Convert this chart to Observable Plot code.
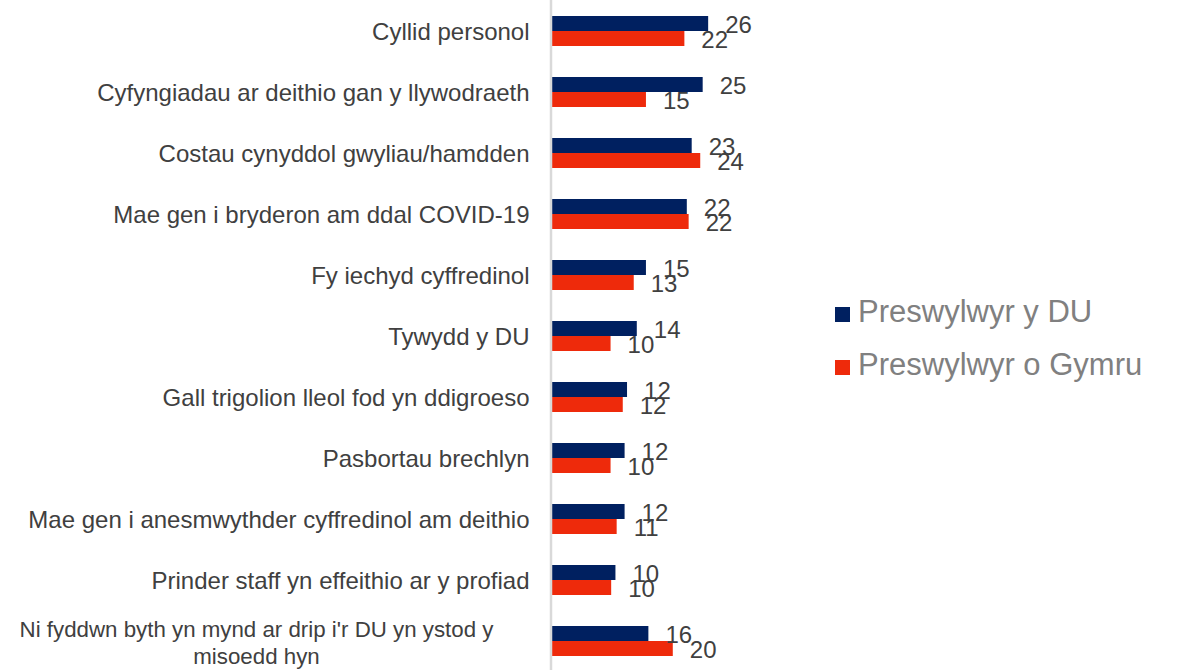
<!DOCTYPE html>
<html>
<head>
<meta charset="utf-8">
<script src="https://cdn.jsdelivr.net/npm/d3@7"></script>
<script src="https://cdn.jsdelivr.net/npm/@observablehq/plot@0.6"></script>
<style>
  html, body { margin: 0; padding: 0; background: #fff; overflow: hidden; }
  body { font-family: "Liberation Sans", Arial, sans-serif; }
  #wrap { position: relative; width: 1178px; height: 670px; overflow: hidden; }
  #chart svg { display: block; }
  .leg { position: absolute; left: 835px; font-size: 31px; line-height: 31px; height: 31px; color: #808080; white-space: nowrap; }
  .leg .sw { display: inline-block; width: 15px; height: 15px; margin-right: 8px; vertical-align: baseline; }
</style>
</head>
<body>
<div id="wrap">
  <div id="chart"></div>
</div>
<script>
// ---- data ----
const categories = [
  "Cyllid personol",
  "Cyfyngiadau ar deithio gan y llywodraeth",
  "Costau cynyddol gwyliau/hamdden",
  "Mae gen i bryderon am ddal COVID-19",
  "Fy iechyd cyffredinol",
  "Tywydd y DU",
  "Gall trigolion lleol fod yn ddigroeso",
  "Pasbortau brechlyn",
  "Mae gen i anesmwythder cyffredinol am deithio",
  "Prinder staff yn effeithio ar y profiad",
  "Ni fyddwn byth yn mynd ar drip i'r DU yn ystod y misoedd hyn"
];
const tickLabels = [
  "Cyllid personol",
  "Cyfyngiadau ar deithio gan y llywodraeth",
  "Costau cynyddol gwyliau/hamdden",
  "Mae gen i bryderon am ddal COVID-19",
  "Fy iechyd cyffredinol",
  "Tywydd y DU",
  "Gall trigolion lleol fod yn ddigroeso",
  "Pasbortau brechlyn",
  "Mae gen i anesmwythder cyffredinol am deithio",
  "Prinder staff yn effeithio ar y profiad",
  "Ni fyddwn byth yn mynd ar drip i'r DU yn ystod y\nmisoedd hyn"
];
const seriesNames = ["Preswylwyr y DU", "Preswylwyr o Gymru"];
const ukValues    = [25.6, 24.7, 22.9, 22.1, 15.4, 13.9, 12.3, 11.9, 11.9, 10.4, 15.8];
const walesValues = [21.7, 15.4, 24.3, 22.4, 13.4, 9.6, 11.6, 9.6, 10.6, 9.7, 19.8];
const colors = ["#002060", "#EE2A0B"];

// ---- build table ----
const rows = categories.map((c, i) => ({
  category: c,
  label: tickLabels[i],
  uk: ukValues[i],
  wales: walesValues[i],
  multi: tickLabels[i].includes("\n")
}));
const fmt = d3.format(".0f");
const labelColor = "#404040";

const chart = Plot.plot({
  width: 1178,
  height: 672,
  marginLeft: 552,
  marginRight: 16,
  marginTop: 0,
  marginBottom: 0,
  style: { fontFamily: "'Liberation Sans', Arial, sans-serif", background: "transparent", overflow: "visible" },
  x: { domain: [0, 100], axis: null },
  y: { domain: categories, paddingInner: 0.509, paddingOuter: 0.2545, axis: null },
  marks: [
    Plot.barX(rows, { x: "uk", y: "category", fill: colors[0], insetBottom: 15 }),
    Plot.barX(rows, { x: "wales", y: "category", fill: colors[1], insetTop: 15 }),
    Plot.ruleX([0], { stroke: "#d9d9d9", strokeWidth: 2.5, dx: -1.5 }),
    Plot.text(rows, { x: "uk", y: "category", text: d => fmt(d.uk), textAnchor: "start", dx: 16.5, dy: -6.6, fontSize: 24, fill: labelColor }),
    Plot.text(rows, { x: "wales", y: "category", text: d => fmt(d.wales), textAnchor: "start", dx: 16.5, dy: 8.8, fontSize: 24, fill: labelColor }),
    Plot.text(rows.filter(d => !d.multi), { y: "category", text: "label", frameAnchor: "left", textAnchor: "end", dx: -23, dy: 0.5, fontSize: 24, fill: labelColor }),
    Plot.text(rows.filter(d => d.multi), { y: "category", text: "label", frameAnchor: "left", textAnchor: "middle", dx: -296, dy: 0.5, fontSize: 22.3, lineHeight: 1.22, fill: labelColor })
  ]
});
document.getElementById("chart").appendChild(chart);

// ---- legend (HTML, over the right side) ----
const wrap = document.getElementById("wrap");
const legendTops = [295.5, 348.5];
seriesNames.forEach((name, i) => {
  const div = document.createElement("div");
  div.className = "leg";
  div.style.top = legendTops[i] + "px";
  const sw = document.createElement("span");
  sw.className = "sw";
  sw.style.background = colors[i];
  div.appendChild(sw);
  div.appendChild(document.createTextNode(name));
  wrap.appendChild(div);
});
</script>
</body>
</html>
